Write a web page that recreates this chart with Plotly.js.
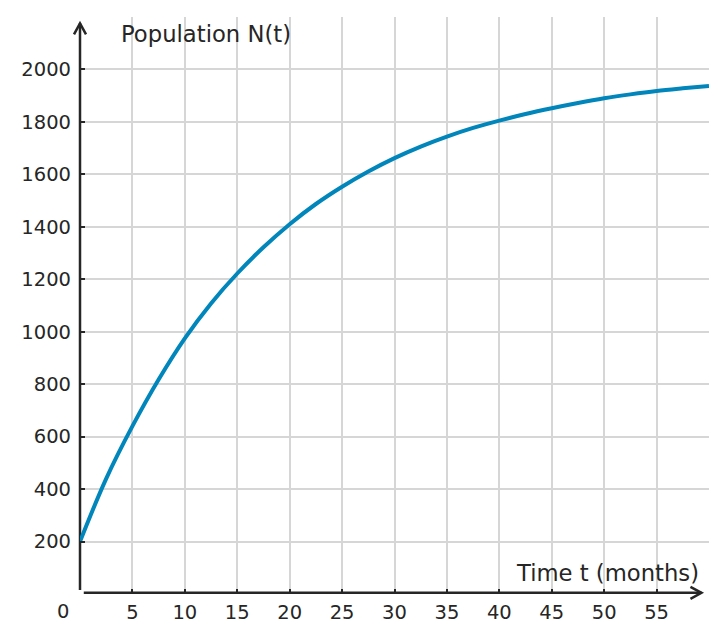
<!DOCTYPE html>
<html>
<head>
<meta charset="utf-8">
<script src="https://cdn.plot.ly/plotly-3.0.1.min.js"></script>
<style>html,body{margin:0;padding:0;background:#fff}#chart{width:727px;height:642px}</style>
</head>
<body>
<div id="chart"></div>
<script>
// Data
const timeMonths = [0, 2.5, 5, 7.5, 10, 12.5, 15, 17.5, 20, 22.5, 25, 27.5, 30, 32.5, 35, 37.5, 40, 42.5, 45, 47.5, 50, 52.5, 55, 57.5, 60];
const population = [200, 440, 640, 818, 975, 1108, 1222, 1322, 1410, 1487, 1553, 1611, 1662, 1706, 1744, 1777, 1805, 1830, 1852, 1872, 1890, 1905, 1918, 1928, 1937];
const xTicks = [5, 10, 15, 20, 25, 30, 35, 40, 45, 50, 55];
const yTicks = [200, 400, 600, 800, 1000, 1200, 1400, 1600, 1800, 2000];
const xTitle = 'Time t (months)';
const yTitle = 'Population N(t)';
const originLabel = '0';

const ink = '#262626';
const font = 'DejaVu Sans, sans-serif';

const trace = {
  x: timeMonths, y: population, type: 'scatter', mode: 'lines',
  line: {color: '#0086bb', width: 4, shape: 'spline', smoothing: 1},
  hoverinfo: 'skip'
};

const layout = {
  width: 727, height: 642,
  margin: {l: 80, r: 18, t: 17, b: 48, pad: 0},
  paper_bgcolor: '#fff', plot_bgcolor: '#fff',
  showlegend: false,
  font: {family: font, color: ink, size: 19.5},
  xaxis: {
    range: [0, 60], tickmode: 'array', tickvals: xTicks, ticktext: xTicks.map(String),
    showgrid: true, gridcolor: '#d6d6d6', gridwidth: 2,
    zeroline: false, showline: false,
    ticks: 'inside', ticklen: 5, tickwidth: 2, tickcolor: ink,
    tickfont: {family: font, size: 19.5, color: ink}, ticklabelstandoff: 4
  },
  yaxis: {
    range: [0, 2200], tickmode: 'array', tickvals: yTicks, ticktext: yTicks.map(String),
    showgrid: true, gridcolor: '#d6d6d6', gridwidth: 2,
    zeroline: false, showline: false,
    ticks: 'inside', ticklen: 5, tickwidth: 2, tickcolor: ink,
    tickfont: {family: font, size: 19.5, color: ink}, ticklabelstandoff: 8
  },
  shapes: [
    {type: 'line', xref: 'paper', yref: 'paper', x0: 0, x1: 0, y0: 0.007, y1: 0.989,
     line: {color: ink, width: 2.5}, layer: 'between'},
    {type: 'line', xref: 'paper', yref: 'paper', x0: 0.006, x1: 0.988, y0: 0.002, y1: 0.002,
     line: {color: ink, width: 2.5}, layer: 'between'},
    {type: 'path', xref: 'paper', yref: 'paper', xsizemode: 'pixel', ysizemode: 'pixel',
     xanchor: 0, yanchor: 0.989, path: 'M -6,-11 L 0,0 L 6,-11',
     line: {color: ink, width: 2.5}, layer: 'between'},
    {type: 'path', xref: 'paper', yref: 'paper', xsizemode: 'pixel', ysizemode: 'pixel',
     xanchor: 0.988, yanchor: 0.002, path: 'M -11,6 L 0,0 L -11,-6',
     line: {color: ink, width: 2.5}, layer: 'between'}
  ],
  annotations: [
    {text: yTitle, xref: 'paper', yref: 'paper', x: 0.0615, y: 0.970,
     xanchor: 'left', yanchor: 'middle', showarrow: false,
     font: {family: font, size: 22.7, color: ink}},
    {text: xTitle, xref: 'paper', yref: 'paper', x: 0.987, y: 0.037,
     xanchor: 'right', yanchor: 'middle', showarrow: false,
     font: {family: font, size: 22.7, color: ink}},
    {text: originLabel, xref: 'x', yref: 'y', x: 0, y: 0, xshift: -17, yshift: -17,
     xanchor: 'center', yanchor: 'middle', showarrow: false,
     font: {family: font, size: 19.5, color: ink}}
  ]
};

Plotly.newPlot('chart', [trace], layout, {displayModeBar: false, staticPlot: true});
</script>
</body>
</html>
